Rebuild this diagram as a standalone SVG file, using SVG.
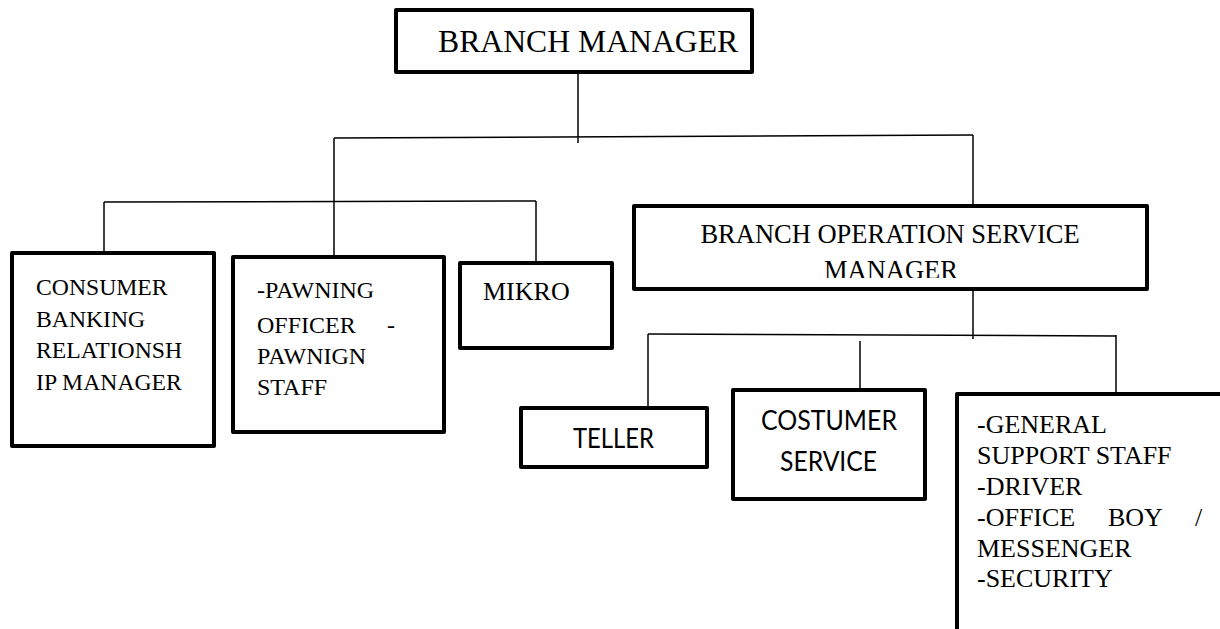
<svg xmlns="http://www.w3.org/2000/svg" width="1220" height="629" viewBox="0 0 1220 629">
<style>
.box{fill:#fff;stroke:#000;stroke-width:4;stroke-linejoin:round}
.con{fill:none;stroke:#000;stroke-width:1.5}
.serif{font-family:"Liberation Serif","Times New Roman",serif;fill:#000}
.sans{font-family:Lato,"Liberation Sans",sans-serif;fill:#000}
</style>
<defs>
<clipPath id="bosmClip"><rect x="636" y="208" width="509" height="70"/></clipPath>
</defs>
<rect width="1220" height="629" fill="#fff"/>
<g id="connectors">
<path class="con" d="M578,72 V143"/>
<path class="con" d="M334,138 L973,135"/>
<path class="con" d="M973,135 V207"/>
<path class="con" d="M334,138 V257"/>
<path class="con" d="M104,202 L536,201"/>
<path class="con" d="M104,202 V253"/>
<path class="con" d="M536,201 V263"/>
<path class="con" d="M973,280 V339"/>
<path class="con" d="M648,334 L1116,336"/>
<path class="con" d="M648,334 V408"/>
<path class="con" d="M860,341 V390"/>
<path class="con" d="M1116,335 V394"/>
</g>
<g id="branch-manager">
<rect class="box" x="396" y="10" width="356" height="62"/>
<text class="serif" x="438" y="52" font-size="31.7">BRANCH MANAGER</text>
</g>
<g id="consumer-banking">
<rect class="box" x="12" y="253" width="202" height="193"/>
<text class="serif" font-size="23.7"><tspan x="36" y="295">CONSUMER</tspan><tspan x="36" y="327">BANKING</tspan><tspan x="36" y="358">RELATIONSH</tspan><tspan x="36" y="390">IP MANAGER</tspan></text>
</g>
<g id="pawning">
<rect class="box" x="233" y="257" width="211" height="175"/>
<text class="serif" font-size="24"><tspan x="257" y="298">-PAWNING</tspan><tspan x="257" y="333">OFFICER</tspan><tspan x="387" y="333">-</tspan><tspan x="257" y="364">PAWNIGN</tspan><tspan x="257" y="395">STAFF</tspan></text>
</g>
<g id="mikro">
<rect class="box" x="460" y="263" width="152" height="85"/>
<text class="serif" x="483" y="300" font-size="26">MIKRO</text>
</g>
<g id="branch-operation-service-manager">
<rect class="box" x="634" y="206" width="513" height="83"/>
<g clip-path="url(#bosmClip)">
<text class="serif" font-size="26.5" text-anchor="middle"><tspan x="890" y="243">BRANCH OPERATION SERVICE</tspan><tspan x="891" y="279">MANAGER</tspan></text>
</g>
</g>
<g id="teller">
<rect class="box" x="521" y="408" width="186" height="59"/>
<text class="sans" x="573" y="448" font-size="26" textLength="81" lengthAdjust="spacingAndGlyphs">TELLER</text>
</g>
<g id="costumer-service">
<rect class="box" x="733" y="390" width="192" height="109"/>
<text class="sans" font-size="26"><tspan x="761" y="430" textLength="136" lengthAdjust="spacingAndGlyphs">COSTUMER</tspan></text>
<text class="sans" font-size="26"><tspan x="780" y="471" textLength="97" lengthAdjust="spacingAndGlyphs">SERVICE</tspan></text>
</g>
<g id="general-support">
<rect class="box" x="957" y="394" width="300" height="300"/>
<text class="serif" font-size="26"><tspan x="977" y="433">-GENERAL</tspan><tspan x="977" y="464">SUPPORT STAFF</tspan><tspan x="977" y="495">-DRIVER</tspan><tspan x="977" y="526">-OFFICE</tspan><tspan x="1108" y="526">BOY</tspan><tspan x="1195" y="526">/</tspan><tspan x="977" y="557">MESSENGER</tspan><tspan x="977" y="587">-SECURITY</tspan></text>
</g>
</svg>
